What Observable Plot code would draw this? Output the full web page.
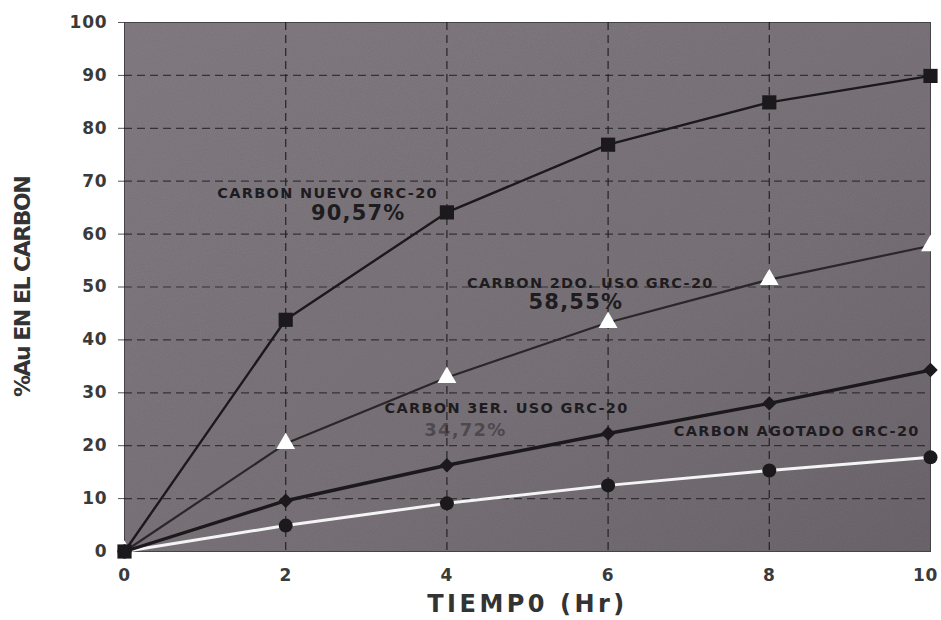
<!DOCTYPE html>
<html>
<head>
<meta charset="utf-8">
<script src="https://cdn.jsdelivr.net/npm/d3@7"></script>
<script src="https://cdn.jsdelivr.net/npm/@observablehq/plot@0.6"></script>
<style>
  html, body { margin: 0; padding: 0; background: #ffffff; }
  #chart svg { display: block; }
</style>
</head>
<body>
<div id="chart"></div>
<script>
// ---- data ----
const tiempo = [0, 2, 4, 6, 8, 10];
const carbonNuevo   = [0, 43.8, 64.1, 76.9, 84.9, 89.9];
const carbon2do     = [0, 20.4, 32.9, 43.3, 51.4, 57.8];
const carbon3er     = [0, 9.6, 16.3, 22.3, 28.0, 34.3];
const carbonAgotado = [0, 4.9, 9.1, 12.5, 15.3, 17.8];

const xTicks = [0, 2, 4, 6, 8, 10];
const yTicks = [0, 10, 20, 30, 40, 50, 60, 70, 80, 90, 100];

const xTitle = "TIEMP0 (Hr)";
const yTitle = "%Au EN EL CARBON";

// annotation texts and their data-space anchors
const annoText = ["CARBON NUEVO GRC-20", "90,57%", "CARBON 2DO. USO GRC-20", "58,55%",
                  "CARBON 3ER. USO GRC-20", "34,72%", "CARBON AGOTADO GRC-20"];
const annoX = [2.52, 2.90, 5.78, 5.60, 4.74, 4.23, 8.34];
const annoY = [67.7, 63.9, 50.7, 47.1, 27.0, 22.9, 22.7];
const annoKind = ["name", "pct", "name", "pct", "name", "pctFaint", "name"];

const rows = (vals) => tiempo.map((t, i) => ({t, v: vals[i]}));
const anno = annoText.map((s, i) => ({s, x: annoX[i], y: annoY[i], k: annoKind[i]}));

const ink = "#1b191c";
const font = "DejaVu Sans";

const chart = Plot.plot({
  width: 941,
  height: 620,
  marginLeft: 124,
  marginRight: 11,
  marginTop: 22,
  marginBottom: 69,
  style: {background: "#ffffff", overflow: "visible"},
  x: {domain: [0, 10]},
  y: {domain: [0, 100]},
  marks: [
    Plot.frame({fill: "#7b757a", stroke: "#4a464b", strokeWidth: 1, ariaLabel: "plotbg"}),
    Plot.gridX(xTicks.slice(1, -1), {stroke: "#1e1c1f", strokeOpacity: 0.85, strokeWidth: 1.3, strokeDasharray: "8,5"}),
    Plot.gridY(yTicks.slice(1, -1), {stroke: "#1e1c1f", strokeOpacity: 0.75, strokeWidth: 1.2, strokeDasharray: "8,5"}),
    Plot.axisY({ticks: yTicks, tickSize: 6, tickPadding: 11, label: null,
      fontSize: 17, fontWeight: "bold", fontFamily: font, fill: "#3a3a3a", stroke: "#555"}),
    Plot.axisX({ticks: xTicks, tickSize: 0, tickPadding: 17, label: null,
      fontSize: 17, fontWeight: "bold", fontFamily: font, fill: "#3a3a3a"}),
    // series
    Plot.line(rows(carbon2do), {x: "t", y: "v", stroke: "#2a272b", strokeWidth: 2.2}),
    Plot.dot(rows(carbon2do), {x: "t", y: "v", symbol: "triangle", r: 7, fill: "#ffffff", stroke: "none"}),
    Plot.line(rows(carbonAgotado), {x: "t", y: "v", stroke: "#f4f4f4", strokeWidth: 3}),
    Plot.dot(rows(carbonAgotado), {x: "t", y: "v", symbol: "circle", r: 7, fill: ink}),
    Plot.line(rows(carbon3er), {x: "t", y: "v", stroke: ink, strokeWidth: 3.4}),
    Plot.dot(rows(carbon3er), {x: "t", y: "v", symbol: "diamond2", r: 6.5, fill: ink}),
    Plot.line(rows(carbonNuevo), {x: "t", y: "v", stroke: ink, strokeWidth: 2.4}),
    Plot.dot(rows(carbonNuevo), {x: "t", y: "v", symbol: "square", r: 8, fill: ink}),
    // annotations
    Plot.text(anno.filter(d => d.k === "name"), {x: "x", y: "y", text: "s",
      fontSize: 14.5, fontWeight: "bold", fontFamily: font, fill: "#1e1c1f"}),
    Plot.text(anno.filter(d => d.k === "pct"), {x: "x", y: "y", text: "s",
      fontSize: 21, fontWeight: "bold", fontFamily: font, fill: "#1e1c1f"}),
    Plot.text(anno.filter(d => d.k === "pctFaint"), {x: "x", y: "y", text: "s",
      fontSize: 18, fontWeight: "bold", fontFamily: font, fill: "#2a282b", fillOpacity: 0.55}),
    // axis titles
    Plot.text([xTitle], {frameAnchor: "bottom", dy: 60, text: d => d,
      fontSize: 24, fontWeight: "bold", fontFamily: font, fill: "#333"}),
    Plot.text([yTitle], {frameAnchor: "left", dx: -102, rotate: -90, textAnchor: "middle",
      text: d => d, fontSize: 22, fontWeight: "bold", fontFamily: font, fill: "#333"})
  ]
});

// letter spacing (style only), matched on text content
const spacingFor = (s) => {
  if (s === xTitle) return 3.5;
  if (s === yTitle) return -1.5;
  if (s.startsWith("CARBON")) return 1.3;
  if (s.endsWith("%")) return 1.2;
  if (/^\d+$/.test(s)) return 0.8;
  return null;
};
chart.querySelectorAll("text").forEach(t => {
  const ls = spacingFor(t.textContent.trim());
  if (ls != null) t.setAttribute("letter-spacing", ls);
});
// keep the last x tick label inside the picture, as in the reference
chart.querySelectorAll('g[aria-label="x-axis tick label"] text').forEach(t => {
  if (t.textContent.trim() === String(xTicks[xTicks.length - 1])) t.setAttribute("dx", -5);
});

// subtle paper-like texture on the plot background
const ns = "http://www.w3.org/2000/svg";
const defs = document.createElementNS(ns, "defs");
defs.innerHTML = `
  <filter id="grain" x="0" y="0" width="100%" height="100%">
    <feTurbulence type="fractalNoise" baseFrequency="0.9" numOctaves="2" seed="3" result="n"/>
    <feColorMatrix in="n" type="matrix" values="0 0 0 0 0.5  0 0 0 0 0.48  0 0 0 0 0.5  0 0 0 0.35 0" result="g"/>
    <feBlend in="SourceGraphic" in2="g" mode="multiply" result="b"/>
    <feComposite in="b" in2="SourceGraphic" operator="in"/>
  </filter>
  <linearGradient id="shade" x1="0" y1="0" x2="1" y2="1">
    <stop offset="0" stop-color="#847e84"/>
    <stop offset="0.6" stop-color="#7a747a"/>
    <stop offset="1" stop-color="#6d676d"/>
  </linearGradient>`;
chart.insertBefore(defs, chart.firstChild);
const bg = chart.querySelector('g[aria-label="plotbg"] rect') || chart.querySelector('rect[aria-label="plotbg"]');
if (bg) { bg.setAttribute("fill", "url(#shade)"); bg.setAttribute("filter", "url(#grain)"); }

document.getElementById("chart").append(chart);
</script>
</body>
</html>
